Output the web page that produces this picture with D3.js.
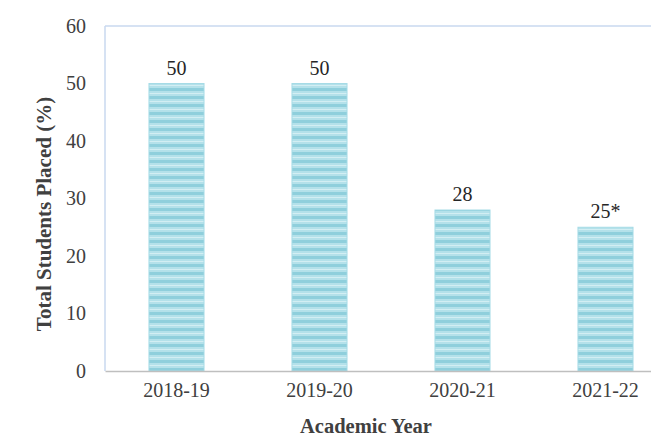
<!DOCTYPE html>
<html><head><meta charset="utf-8">
<script src="https://cdn.jsdelivr.net/npm/d3@7"></script>
<style>body{margin:0;background:#fff}svg{display:block}</style>
</head><body>
<script>
const categories = ["2018-19","2019-20","2020-21","2021-22"];
const values = [50, 50, 28, 25];
const valueLabels = ["50","50","28","25*"];
const yTicks = [0,10,20,30,40,50,60];

const W = 651, H = 436;
const FONT = "'Liberation Serif', 'Times New Roman', serif";
const svg = d3.select("body").append("svg").attr("width", W).attr("height", H);
const mLeft = 105, mRight = 677, mTop = 26, mBottom = 371;

const defs = svg.append("defs");
const pat = defs.append("pattern").attr("id","stripes").attr("patternUnits","userSpaceOnUse")
  .attr("width", 10).attr("height", 8).attr("y", 0);
pat.append("rect").attr("width",10).attr("height",8).attr("fill","#b4e1ea");
pat.append("rect").attr("y",0).attr("width",10).attr("height",3).attr("fill","#8fcfdc");
pat.append("rect").attr("y",5).attr("width",10).attr("height",1).attr("fill","#d2eef3");

const x = d3.scaleBand().domain(categories).range([mLeft, mRight]).paddingInner(0.615).paddingOuter(0.3075);
const y = d3.scaleLinear().domain([0, 60]).range([mBottom, mTop]);

// plot border (top/left)
svg.append("line").attr("x1", mLeft).attr("x2", W).attr("y1", mTop).attr("y2", mTop).attr("stroke","#c9d9ef").attr("stroke-width",1.5);
svg.append("line").attr("x1", mLeft).attr("x2", mLeft).attr("y1", mTop).attr("y2", mBottom).attr("stroke","#c9d9ef").attr("stroke-width",1.5);

svg.selectAll("rect.bar").data(values).join("rect").attr("class","bar")
  .attr("x", (d,i) => x(categories[i])).attr("width", x.bandwidth())
  .attr("y", d => y(d)).attr("height", d => y(0) - y(d))
  .attr("fill","url(#stripes)").attr("stroke","#a6dbe6").attr("stroke-width",1);

// x axis
const xAxis = svg.append("g").attr("transform", `translate(0,${mBottom})`)
  .call(d3.axisBottom(x).tickSize(0).tickPadding(12));
xAxis.select(".domain").attr("stroke","#bfbfbf").attr("stroke-width",1.5);
xAxis.selectAll("text").attr("font-family",FONT).attr("font-size",20).attr("fill","#404040");

// y axis
const yAxis = svg.append("g").attr("transform", `translate(${mLeft},0)`)
  .call(d3.axisLeft(y).tickValues(yTicks).tickSize(0).tickPadding(19));
yAxis.select(".domain").remove();
yAxis.selectAll("text").attr("font-family",FONT).attr("font-size",20).attr("fill","#404040");

// value labels
svg.selectAll("text.val").data(values).join("text").attr("class","val")
  .attr("x", (d,i) => x(categories[i]) + x.bandwidth()/2)
  .attr("y", d => y(d) - 9)
  .attr("text-anchor","middle")
  .attr("font-family",FONT).attr("font-size",20).attr("fill","#262626")
  .text((d,i) => valueLabels[i]);

// axis titles
svg.append("text").attr("x", 366).attr("y", 433).attr("text-anchor","middle")
  .attr("font-family",FONT).attr("font-size",20.5).attr("font-weight","bold").attr("fill","#404040")
  .text("Academic Year");
svg.append("text").attr("transform","translate(51,214) rotate(-90)").attr("text-anchor","middle")
  .attr("font-family",FONT).attr("font-size",21).attr("font-weight","bold").attr("fill","#404040")
  .text("Total Students Placed (%)");
</script>
</body></html>
